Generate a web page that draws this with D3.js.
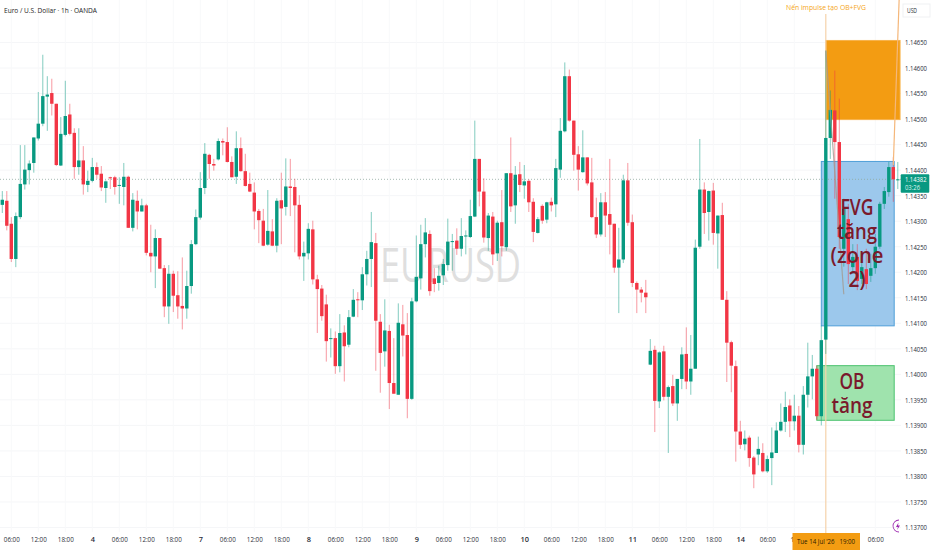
<!DOCTYPE html>
<html>

<head>
  <meta charset="UTF-8">
  <title>EURUSD 1h</title>
  <script src="https://d3js.org/d3.v7.min.js"></script>
  <style>
    html, body { margin: 0; padding: 0; background: #fff; }
    svg { display: block; font-family: "Open Sans", sans-serif; }
    .domain, .tick line { display: none; }
  </style>
</head>

<body>
  <svg></svg>
</body>

<script>
  let opens = [
    1.14332,1.14340,1.14295,1.14226,1.14308,1.14372,1.14400,1.14414,1.14462,1.14491,
    1.14544,1.14551,1.14530,1.14409,1.14469,1.14509,1.14473,1.14406,1.14419,1.14371,
    1.14379,1.14406,1.14393,1.14365,1.14386,1.14386,1.14370,1.14367,1.14387,1.14287,
    1.14340,1.14319,1.14331,1.14238,1.14231,1.14267,1.14208,1.14133,1.14197,1.14155,
    1.14134,1.14129,1.14173,1.14255,1.14307,1.14365,1.14430,1.14412,1.14421,1.14457,
    1.14455,1.14416,1.14387,1.14443,1.14398,1.14373,1.14356,1.14320,1.14301,1.14254,
    1.14280,1.14252,1.14341,1.14328,1.14368,1.14367,1.14332,1.14231,1.14237,1.14284,
    1.14186,1.14168,1.14137,1.14069,1.14071,1.14016,1.14082,1.14058,1.14113,1.14147,
    1.14145,1.14196,1.14226,1.14257,1.14103,1.14045,1.14085,1.13983,1.13960,1.14098,
    1.14077,1.13952,1.14143,1.14188,1.14255,1.14275,1.14188,1.14179,1.14194,1.14214,
    1.14260,1.14262,1.14246,1.14270,1.14269,1.14309,1.14422,1.14358,1.14267,1.14309,
    1.14237,1.14298,1.14249,1.14394,1.14331,1.14392,1.14370,1.14379,1.14338,1.14277,
    1.14330,1.14303,1.14338,1.14333,1.14401,1.14476,1.14584,1.14497,1.14431,1.14396,
    1.14425,1.14376,1.14308,1.14274,1.14337,1.14314,1.14295,1.14209,1.14225,1.14380,
    1.14298,1.14179,1.14166,1.14160,1.14019,1.14048,1.13947,1.14045,1.13956,1.13977,
    1.13943,1.13991,1.14040,1.13986,1.14011,1.14250,1.14362,1.14318,1.14360,1.14276,
    1.14312,1.14146,1.14063,1.14016,1.13888,1.13863,1.13876,1.13837,1.13843,1.13846,
    1.13810,1.13836,1.13846,1.13890,1.13907,1.13939,1.13908,1.13919,1.13862,1.13960,
    1.13996,1.14011,1.13918,1.14068,1.14463,1.14517,1.14455,1.14246,1.14304,1.14210,
    1.14230,1.14187,1.14206,1.14193,1.14208,1.14250,1.14334,1.14357,1.14406,1.14381
  ];
  let closes = [
    1.14342,1.14291,1.14226,1.14310,1.14373,1.14401,1.14413,1.14464,1.14491,1.14545,
    1.14548,1.14530,1.14410,1.14471,1.14506,1.14471,1.14406,1.14419,1.14372,1.14379,
    1.14406,1.14391,1.14366,1.14378,1.14384,1.14367,1.14371,1.14387,1.14287,1.14342,
    1.14319,1.14331,1.14238,1.14231,1.14267,1.14207,1.14133,1.14197,1.14154,1.14133,
    1.14129,1.14173,1.14255,1.14308,1.14365,1.14432,1.14412,1.14409,1.14457,1.14454,
    1.14416,1.14386,1.14443,1.14398,1.14369,1.14358,1.14319,1.14302,1.14252,1.14281,
    1.14252,1.14340,1.14325,1.14368,1.14365,1.14331,1.14231,1.14238,1.14285,1.14186,
    1.14167,1.14114,1.14065,1.14071,1.14016,1.14081,1.14055,1.14112,1.14146,1.14146,
    1.14196,1.14226,1.14259,1.14105,1.14042,1.14086,1.13983,1.13962,1.14101,1.14076,
    1.13952,1.14143,1.14191,1.14255,1.14278,1.14163,1.14177,1.14193,1.14216,1.14260,
    1.14261,1.14246,1.14271,1.14272,1.14310,1.14422,1.14358,1.14268,1.14311,1.14235,
    1.14297,1.14251,1.14394,1.14329,1.14391,1.14371,1.14378,1.14337,1.14279,1.14304,
    1.14301,1.14337,1.14331,1.14404,1.14477,1.14584,1.14497,1.14430,1.14401,1.14425,
    1.14374,1.14308,1.14274,1.14337,1.14311,1.14293,1.14209,1.14225,1.14380,1.14297,
    1.14179,1.14166,1.14160,1.14151,1.14046,1.13948,1.14043,1.13956,1.13975,1.13943,
    1.13991,1.14039,1.13986,1.14011,1.14248,1.14362,1.14316,1.14359,1.14277,1.14311,
    1.14146,1.14062,1.14017,1.13888,1.13862,1.13874,1.13836,1.13804,1.13854,1.13810,
    1.13834,1.13847,1.13890,1.13907,1.13936,1.13908,1.13919,1.13862,1.13960,1.13996,
    1.14011,1.13918,1.14067,1.14463,1.14518,1.14455,1.14269,1.14324,1.14216,1.14230,
    1.14183,1.14210,1.14177,1.14208,1.14250,1.14334,1.14359,1.14406,1.14382,1.14382
  ];
  let highs = [
    1.14359,1.14359,1.14308,1.14317,1.14449,1.14449,1.14419,1.14464,1.14553,1.14626,
    1.14584,1.14579,1.14530,1.14504,1.14575,1.14530,1.14482,1.14482,1.14447,1.14399,
    1.14424,1.14415,1.14408,1.14380,1.14387,1.14389,1.14386,1.14414,1.14389,1.14355,
    1.14360,1.14344,1.14334,1.14293,1.14284,1.14267,1.14214,1.14214,1.14203,1.14202,
    1.14229,1.14203,1.14263,1.14323,1.14396,1.14453,1.14432,1.14422,1.14462,1.14462,
    1.14484,1.14427,1.14476,1.14464,1.14432,1.14395,1.14376,1.14324,1.14324,1.14361,
    1.14304,1.14345,1.14395,1.14423,1.14422,1.14383,1.14351,1.14260,1.14296,1.14301,
    1.14195,1.14175,1.14156,1.14090,1.14084,1.14118,1.14096,1.14126,1.14167,1.14161,
    1.14210,1.14242,1.14318,1.14277,1.14118,1.14147,1.14097,1.14071,1.14139,1.14136,
    1.14120,1.14150,1.14272,1.14293,1.14306,1.14282,1.14208,1.14213,1.14226,1.14305,
    1.14275,1.14286,1.14306,1.14282,1.14342,1.14497,1.14422,1.14384,1.14316,1.14318,
    1.14301,1.14361,1.14394,1.14464,1.14408,1.14416,1.14410,1.14382,1.14345,1.14308,
    1.14333,1.14338,1.14346,1.14422,1.14502,1.14611,1.14597,1.14497,1.14447,1.14478,
    1.14425,1.14424,1.14346,1.14355,1.14357,1.14422,1.14295,1.14287,1.14391,1.14414,
    1.14313,1.14182,1.14171,1.14185,1.14069,1.14056,1.14045,1.14056,1.13978,1.13999,
    1.13991,1.14053,1.14092,1.14077,1.14264,1.14461,1.14376,1.14360,1.14375,1.14311,
    1.14336,1.14163,1.14066,1.14027,1.13909,1.13890,1.13880,1.13840,1.13878,1.13865,
    1.13841,1.13896,1.13906,1.13943,1.13966,1.13951,1.13960,1.13938,1.13977,1.14062,
    1.14038,1.14017,1.14095,1.14634,1.14556,1.14595,1.14540,1.14344,1.14334,1.14255,
    1.14255,1.14234,1.14246,1.14236,1.14275,1.14338,1.14367,1.14416,1.14426,1.14416
  ];
  let lows = [
    1.14316,1.14282,1.14220,1.14210,1.14304,1.14362,1.14372,1.14395,1.14458,1.14486,
    1.14477,1.14507,1.14408,1.14408,1.14466,1.14468,1.14383,1.14391,1.14352,1.14357,
    1.14376,1.14383,1.14359,1.14336,1.14363,1.14352,1.14334,1.14331,1.14287,1.14280,
    1.14284,1.14319,1.14233,1.14200,1.14169,1.14207,1.14112,1.14099,1.14122,1.14109,
    1.14088,1.14109,1.14158,1.14253,1.14303,1.14353,1.14383,1.14399,1.14419,1.14429,
    1.14415,1.14386,1.14373,1.14397,1.14368,1.14357,1.14284,1.14257,1.14251,1.14252,
    1.14251,1.14239,1.14255,1.14311,1.14310,1.14239,1.14225,1.14183,1.14225,1.14176,
    1.14081,1.14105,1.14025,1.14033,1.14001,1.14004,1.13986,1.14053,1.14112,1.14112,
    1.14126,1.14174,1.14171,1.14007,1.13964,1.14015,1.13932,1.13962,1.13960,1.14035,
    1.13914,1.13950,1.14141,1.14166,1.14229,1.14154,1.14161,1.14164,1.14175,1.14203,
    1.14203,1.14234,1.14231,1.14235,1.14267,1.14308,1.14329,1.14258,1.14242,1.14214,
    1.14222,1.14231,1.14242,1.14318,1.14295,1.14357,1.14344,1.14318,1.14259,1.14276,
    1.14295,1.14296,1.14319,1.14308,1.14385,1.14474,1.14495,1.14399,1.14360,1.14395,
    1.14370,1.14306,1.14267,1.14270,1.14269,1.14235,1.14199,1.14120,1.14218,1.14291,
    1.14171,1.14120,1.14141,1.14120,1.14018,1.13887,1.13934,1.13949,1.13846,1.13938,
    1.13909,1.13971,1.13971,1.13960,1.14011,1.14246,1.14275,1.14262,1.14254,1.14207,
    1.14146,1.13985,1.13965,1.13829,1.13854,1.13851,1.13819,1.13777,1.13822,1.13808,
    1.13807,1.13783,1.13846,1.13888,1.13887,1.13877,1.13890,1.13847,1.13843,1.13935,
    1.13951,1.13911,1.13900,1.14040,1.14422,1.14344,1.14246,1.14211,1.14177,1.14197,
    1.14165,1.14177,1.14167,1.14181,1.14197,1.14246,1.14324,1.14348,1.14338,1.14363
  ];

  let priceTicks = [1.137, 1.1375, 1.138, 1.1385, 1.139, 1.1395, 1.14, 1.1405, 1.141, 1.1415,
    1.142, 1.1425, 1.143, 1.1435, 1.144, 1.1445, 1.145, 1.1455, 1.146, 1.1465];
  let timeBars = [2, 8, 14, 20, 26, 32, 38, 44, 50, 56, 62, 68, 74, 80, 86, 92, 98, 104, 110, 116,
    122, 128, 134, 140, 146, 152, 158, 164, 170, 176, 194];
  let timeLabels = ["06:00", "12:00", "18:00", "4", "06:00", "12:00", "18:00", "7", "06:00", "12:00", "18:00", "8",
    "06:00", "12:00", "18:00", "9", "06:00", "12:00", "18:00", "10", "06:00", "12:00", "18:00", "11",
    "06:00", "12:00", "18:00", "14", "06:00", "12", "06:00"];

  let lastPrice = 1.14382;
  let cursorBar = 183;

  // zones: first bar, last bar, top price, bottom price
  let orangeZone = [183, 199.5, 1.14654, 1.14499];
  let blueZone = [182, 198.2, 1.14417, 1.14095];
  let greenZone = [181, 198.2, 1.14017, 1.13910];
  // drawn trend lines: bar, price, bar, price
  let impulseLine = [183, 1.14634, 187, 1.14157];
  let rightLine = [199.3, 1.14735, 198, 1.14410];

  let width = 932,
    height = 550;

  let svg = d3.select("svg")
    .attr("width", width)
    .attr("height", height)
    .attr("viewBox", "0 0 " + width + " " + height);

  let x = d3.scaleLinear().domain([0, 198]).range([2.3, 893.3]);
  let y = d3.scaleLinear().domain([1.137, 1.1465]).range([527.5, 42.5]);

  let bars = opens.map((o, i) => ({ i: i, o: o, c: closes[i], h: highs[i], l: lows[i] }));
  let green = "#089981", red = "#f23645";

  // grid
  svg.append("g").selectAll("line").data(priceTicks).enter().append("line")
    .attr("x1", 0).attr("x2", 901)
    .attr("y1", d => y(d)).attr("y2", d => y(d))
    .attr("stroke", "#f5f6f8");
  svg.append("g").selectAll("line").data(timeBars).enter().append("line")
    .attr("x1", d => x(d)).attr("x2", d => x(d))
    .attr("y1", 0).attr("y2", 532)
    .attr("stroke", "#f8f9fb");

  // watermark
  svg.append("text")
    .attr("x", 380).attr("y", 282)
    .attr("textLength", 141).attr("lengthAdjust", "spacingAndGlyphs")
    .attr("font-size", 47)
    .attr("fill", "#dfdfdf")
    .text("EURUSD");

  // zones
  function zone(z, fill, stroke) {
    svg.append("rect")
      .attr("x", x(z[0])).attr("y", y(z[2]))
      .attr("width", x(z[1]) - x(z[0])).attr("height", y(z[3]) - y(z[2]))
      .attr("fill", fill)
      .attr("stroke", stroke);
  }
  zone(orangeZone, "#f39c12", "#f7b24a");
  zone(blueZone, "#9cc8ec", "#4f9fd8");
  zone(greenZone, "#9fe3ad", "#4cc26f");

  // last price line
  svg.append("line")
    .attr("x1", 0).attr("x2", 901)
    .attr("y1", y(lastPrice)).attr("y2", y(lastPrice))
    .attr("stroke", "#8fa8a0")
    .attr("stroke-width", 0.8)
    .attr("stroke-dasharray", "1 2");

  // cursor line
  svg.append("line")
    .attr("x1", x(cursorBar)).attr("x2", x(cursorBar))
    .attr("y1", 14).attr("y2", 533)
    .attr("stroke", "#f6d3ab")
    .attr("stroke-width", 1.2);

  // candles
  svg.append("g").selectAll("line").data(bars).enter().append("line")
    .attr("x1", d => x(d.i)).attr("x2", d => x(d.i))
    .attr("y1", d => y(d.h)).attr("y2", d => y(d.l))
    .attr("stroke", d => d.c >= d.o ? green : red)
    .attr("stroke-opacity", 0.5);
  svg.append("g").selectAll("rect").data(bars).enter().append("rect")
    .attr("x", d => x(d.i) - 1.7)
    .attr("width", 3.4)
    .attr("y", d => y(Math.max(d.o, d.c)))
    .attr("height", d => Math.max(1, Math.abs(y(d.o) - y(d.c))))
    .attr("fill", d => d.c >= d.o ? green : red);

  // trend lines
  svg.append("line")
    .attr("x1", x(impulseLine[0])).attr("y1", y(impulseLine[1]))
    .attr("x2", x(impulseLine[2])).attr("y2", y(impulseLine[3]))
    .attr("stroke", "#a39a90")
    .attr("stroke-width", 1.2)
    .attr("stroke-opacity", 0.8);
  svg.append("line")
    .attr("x1", x(rightLine[0])).attr("y1", y(rightLine[1]))
    .attr("x2", x(rightLine[2])).attr("y2", y(rightLine[3]))
    .attr("stroke", "#f5b77a")
    .attr("stroke-width", 1.2);

  // zone labels
  let maroon = "#7a1a2c";
  let fvgLines = ["FVG", "tăng", "(zone", "2)"];
  let fvgWidths = [33, 40, 53, 17];
  svg.append("g").selectAll("text").data(fvgLines).enter().append("text")
    .attr("x", 857)
    .attr("y", (d, i) => 215 + i * 24)
    .attr("text-anchor", "middle")
    .attr("font-size", 21.5)
    .attr("font-weight", 600)
    .attr("textLength", (d, i) => fvgWidths[i])
    .attr("lengthAdjust", "spacingAndGlyphs")
    .attr("fill", maroon)
    .text(d => d);
  let obLines = ["OB", "tăng"];
  let obWidths = [25, 41];
  svg.append("g").selectAll("text").data(obLines).enter().append("text")
    .attr("x", 852)
    .attr("y", (d, i) => 388.5 + i * 24)
    .attr("text-anchor", "middle")
    .attr("font-size", 21.5)
    .attr("font-weight", 600)
    .attr("textLength", (d, i) => obWidths[i])
    .attr("lengthAdjust", "spacingAndGlyphs")
    .attr("fill", maroon)
    .text(d => d);

  svg.append("text")
    .attr("x", 866).attr("y", 9.5)
    .attr("text-anchor", "end")
    .attr("font-size", 7.5)
    .attr("textLength", 80).attr("lengthAdjust", "spacingAndGlyphs")
    .attr("fill", "#f5a623")
    .text("Nến impulse tạo OB+FVG");

  // title
  svg.append("text")
    .attr("x", 4).attr("y", 12.5)
    .attr("font-size", 7.8)
    .attr("textLength", 93).attr("lengthAdjust", "spacingAndGlyphs")
    .attr("fill", "#1c1c1c")
    .text("Euro / U.S. Dollar · 1h · OANDA");

  // price axis
  let yAxis = d3.axisRight(y)
    .tickValues(priceTicks)
    .tickSize(0)
    .tickPadding(0)
    .tickFormat(d3.format(".5f"));
  svg.append("g")
    .attr("transform", "translate(905,0)")
    .call(yAxis)
    .call(g => g.selectAll("text")
      .attr("font-size", 7.4)
      .attr("fill", "#2a2e39")
      .attr("font-family", "Open Sans")
      .attr("textLength", 22)
      .attr("lengthAdjust", "spacingAndGlyphs"));

  svg.append("rect")
    .attr("x", 903).attr("y", 4).attr("width", 27).attr("height", 13)
    .attr("fill", "#fff").attr("stroke", "#f0f1f3");
  svg.append("text")
    .attr("x", 907).attr("y", 13)
    .attr("font-size", 6.8)
    .attr("textLength", 10).attr("lengthAdjust", "spacingAndGlyphs")
    .attr("fill", "#2a2e39")
    .text("USD");

  // time axis
  let xAxis = d3.axisBottom(x)
    .tickValues(timeBars)
    .tickSize(0)
    .tickPadding(0)
    .tickFormat((d, i) => timeLabels[i]);
  svg.append("g")
    .attr("transform", "translate(0,537)")
    .call(xAxis)
    .call(g => g.selectAll("text")
      .attr("font-size", 7.4)
      .attr("fill", "#2a2e39")
      .attr("font-family", "Open Sans")
      .attr("font-weight", (d, i) => timeLabels[i].length < 3 ? 600 : 400)
      .filter((d, i) => timeLabels[i].length > 2)
      .attr("textLength", 16)
      .attr("lengthAdjust", "spacingAndGlyphs"));

  // cursor date tag
  svg.append("rect")
    .attr("x", 792.5).attr("y", 533).attr("width", 67.5).attr("height", 17)
    .attr("fill", "#f39c12");
  svg.append("text")
    .attr("x", 826).attr("y", 544)
    .attr("text-anchor", "middle")
    .attr("font-size", 7.2)
    .attr("textLength", 58).attr("lengthAdjust", "spacingAndGlyphs")
    .attr("xml:space", "preserve")
    .attr("fill", "#2a1a00")
    .text("Tue 14 Jul '26   19:00");

  // last price tag
  svg.append("rect")
    .attr("x", 900.7).attr("y", 174.3).attr("width", 28.6).attr("height", 18.4)
    .attr("rx", 1)
    .attr("fill", green);
  svg.append("text")
    .attr("x", 905).attr("y", 181.8)
    .attr("font-size", 7.4)
    .attr("textLength", 21.5).attr("lengthAdjust", "spacingAndGlyphs")
    .attr("fill", "#fff")
    .text("1.14382");
  svg.append("text")
    .attr("x", 905).attr("y", 190.3)
    .attr("font-size", 7)
    .attr("textLength", 15).attr("lengthAdjust", "spacingAndGlyphs")
    .attr("fill", "#dff3ee")
    .text("03:26");

  // lightning badge at the axis edge
  svg.append("path")
    .attr("d", d3.arc()({ innerRadius: 5.6, outerRadius: 6.4, startAngle: Math.PI, endAngle: 2 * Math.PI }))
    .attr("transform", "translate(899,526)")
    .attr("fill", "#9c27b0");
  svg.append("path")
    .attr("d", "M898.5 522.5 L896 527 L898 527 L897 530 L900 525.5 L898 525.5 Z")
    .attr("fill", "#9c27b0");
</script>

</html>
